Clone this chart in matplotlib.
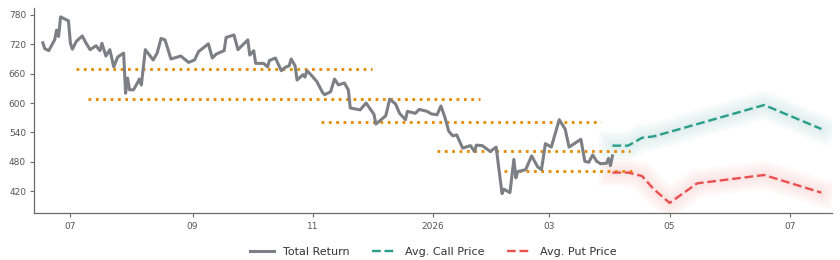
import matplotlib
matplotlib.use("Agg")
import matplotlib.pyplot as plt
import pandas as pd

# ---- data ----
tr_dates = [
    "2025-06-17", "2025-06-18", "2025-06-20", "2025-06-23", "2025-06-24", "2025-06-25", "2025-06-26",
    "2025-06-30", "2025-07-01", "2025-07-02", "2025-07-04", "2025-07-07", "2025-07-09", "2025-07-11",
    "2025-07-14", "2025-07-16", "2025-07-17", "2025-07-19", "2025-07-21", "2025-07-23", "2025-07-25",
    "2025-07-28", "2025-07-29", "2025-07-30", "2025-07-31", "2025-08-02", "2025-08-04", "2025-08-05",
    "2025-08-06", "2025-08-08", "2025-08-12", "2025-08-14", "2025-08-16", "2025-08-18", "2025-08-21",
    "2025-08-26", "2025-08-30", "2025-09-02", "2025-09-04", "2025-09-09", "2025-09-11", "2025-09-13",
    "2025-09-17", "2025-09-18", "2025-09-22", "2025-09-24", "2025-09-29", "2025-09-30", "2025-10-02",
    "2025-10-03", "2025-10-07", "2025-10-09", "2025-10-10", "2025-10-13", "2025-10-16", "2025-10-18",
    "2025-10-20", "2025-10-21", "2025-10-23", "2025-10-24", "2025-10-27", "2025-10-28", "2025-10-29",
    "2025-10-31", "2025-11-03", "2025-11-06", "2025-11-07", "2025-11-10", "2025-11-12", "2025-11-14",
    "2025-11-17", "2025-11-19", "2025-11-20", "2025-11-25", "2025-11-28", "2025-12-02", "2025-12-03",
    "2025-12-08", "2025-12-10", "2025-12-13", "2025-12-15", "2025-12-18", "2025-12-19", "2025-12-23",
    "2025-12-25", "2025-12-29", "2025-12-31", "2026-01-03", "2026-01-05", "2026-01-07", "2026-01-09",
    "2026-01-11", "2026-01-13", "2026-01-16", "2026-01-20", "2026-01-22", "2026-01-23", "2026-01-26",
    "2026-01-30", "2026-02-02", "2026-02-05", "2026-02-06", "2026-02-09", "2026-02-11", "2026-02-12",
    "2026-02-13", "2026-02-17", "2026-02-20", "2026-02-23", "2026-02-25", "2026-02-27", "2026-03-02",
    "2026-03-06", "2026-03-09", "2026-03-11", "2026-03-17", "2026-03-19", "2026-03-21", "2026-03-23",
    "2026-03-25", "2026-03-27", "2026-03-30", "2026-03-31", "2026-04-01", "2026-04-02",
]
tr_values = [
    723, 711, 707, 729, 749, 736, 776,
    768, 722, 710, 726, 737, 722, 709,
    717, 707, 722, 696, 709, 674, 694,
    702, 620, 651, 627, 627, 641, 649,
    637, 709, 688, 702, 732, 729, 690,
    696, 683, 688, 705, 721, 692, 700,
    707, 734, 739, 709, 729, 698, 707,
    681, 681, 674, 687, 692, 666, 673,
    676, 690, 676, 647, 658, 653, 666,
    658, 644, 621, 617, 623, 649, 637,
    641, 627, 590, 586, 600, 577, 557,
    574, 608, 598, 579, 566, 583, 579,
    587, 583, 578, 576, 594, 571, 542,
    533, 535, 508, 513, 501, 514, 513,
    501, 510, 415, 424, 417, 485, 447,
    460, 464, 492, 470, 464, 517, 510,
    566, 547, 510, 526, 481, 479, 494,
    481, 476, 477, 487, 472, 492,
]

fc_dates = ["2026-04-02", "2026-04-10", "2026-04-17", "2026-04-23", "2026-05-01",
            "2026-05-15", "2026-06-18", "2026-07-17"]
call_values = [513, 513, 529, 532, 541, 557, 596, 547]
put_values = [458, 458, 451, 424, 396, 436, 453, 417]

level_values = [669, 609, 561, 502, 461]
level_starts = ["2025-07-04", "2025-07-10", "2025-11-05", "2026-01-03", "2026-02-06"]
level_ends = ["2025-12-01", "2026-01-25", "2026-03-27", "2026-04-11", "2026-04-14"]

tick_dates = ["2025-07-01", "2025-09-01", "2025-11-01", "2026-01-01", "2026-03-01",
              "2026-05-01", "2026-07-01"]
tick_labels = ["07", "09", "11", "2026", "03", "05", "07"]
y_ticks = [420, 480, 540, 600, 660, 720, 780]

# ---- style ----
GRAY = "#7c7f84"
CALL = "#2a9d8a"
PUT = "#e8504f"
ORANGE = "#e68a00"

fig = plt.figure(figsize=(8.4, 2.6), dpi=100)
ax = fig.add_axes([0.041, 0.18, 0.9495, 0.789])

td = pd.to_datetime(tr_dates)
fd = pd.to_datetime(fc_dates)

for s, e, v in zip(level_starts, level_ends, level_values):
    ax.plot(pd.to_datetime([s, e]), [v, v], linestyle=":", color=ORANGE, lw=2.0, zorder=2)

for vals, col in [(call_values, CALL), (put_values, PUT)]:
    for lw in (20, 15, 10, 5):
        ax.plot(fd, vals, color=col, lw=lw, alpha=0.035, solid_capstyle="projecting",
                solid_joinstyle="miter", zorder=1)

ax.plot(td, tr_values, color=GRAY, lw=2.2, zorder=3, label="Total Return")
ax.plot(fd, call_values, color=CALL, lw=1.7, linestyle="--", zorder=4, label="Avg. Call Price")
ax.plot(fd, put_values, color=PUT, lw=1.7, linestyle="--", zorder=4, label="Avg. Put Price")

ax.set_xlim(pd.Timestamp("2025-06-12 18:00"), pd.Timestamp("2026-07-22 10:00"))
ax.set_ylim(375, 794)
ax.set_xticks(pd.to_datetime(tick_dates))
ax.set_xticklabels(tick_labels)
ax.set_yticks(y_ticks)
ax.set_yticklabels([str(v) for v in y_ticks])

for side in ("top", "right"):
    ax.spines[side].set_visible(False)
for side in ("left", "bottom"):
    ax.spines[side].set_color("#6b6b6b")
    ax.spines[side].set_linewidth(0.9)
ax.tick_params(axis="both", colors="#6b6b6b", labelsize=6.5, length=3, width=0.8,
               labelcolor="#555555", pad=3)

leg = ax.legend(loc="upper center", bbox_to_anchor=(0.5, -0.115), ncol=3, frameon=False,
                fontsize=8, handlelength=2.2, columnspacing=2.0, handletextpad=0.8)
for t in leg.get_texts():
    t.set_color("#333333")

fig.savefig("out.png", dpi=100)
